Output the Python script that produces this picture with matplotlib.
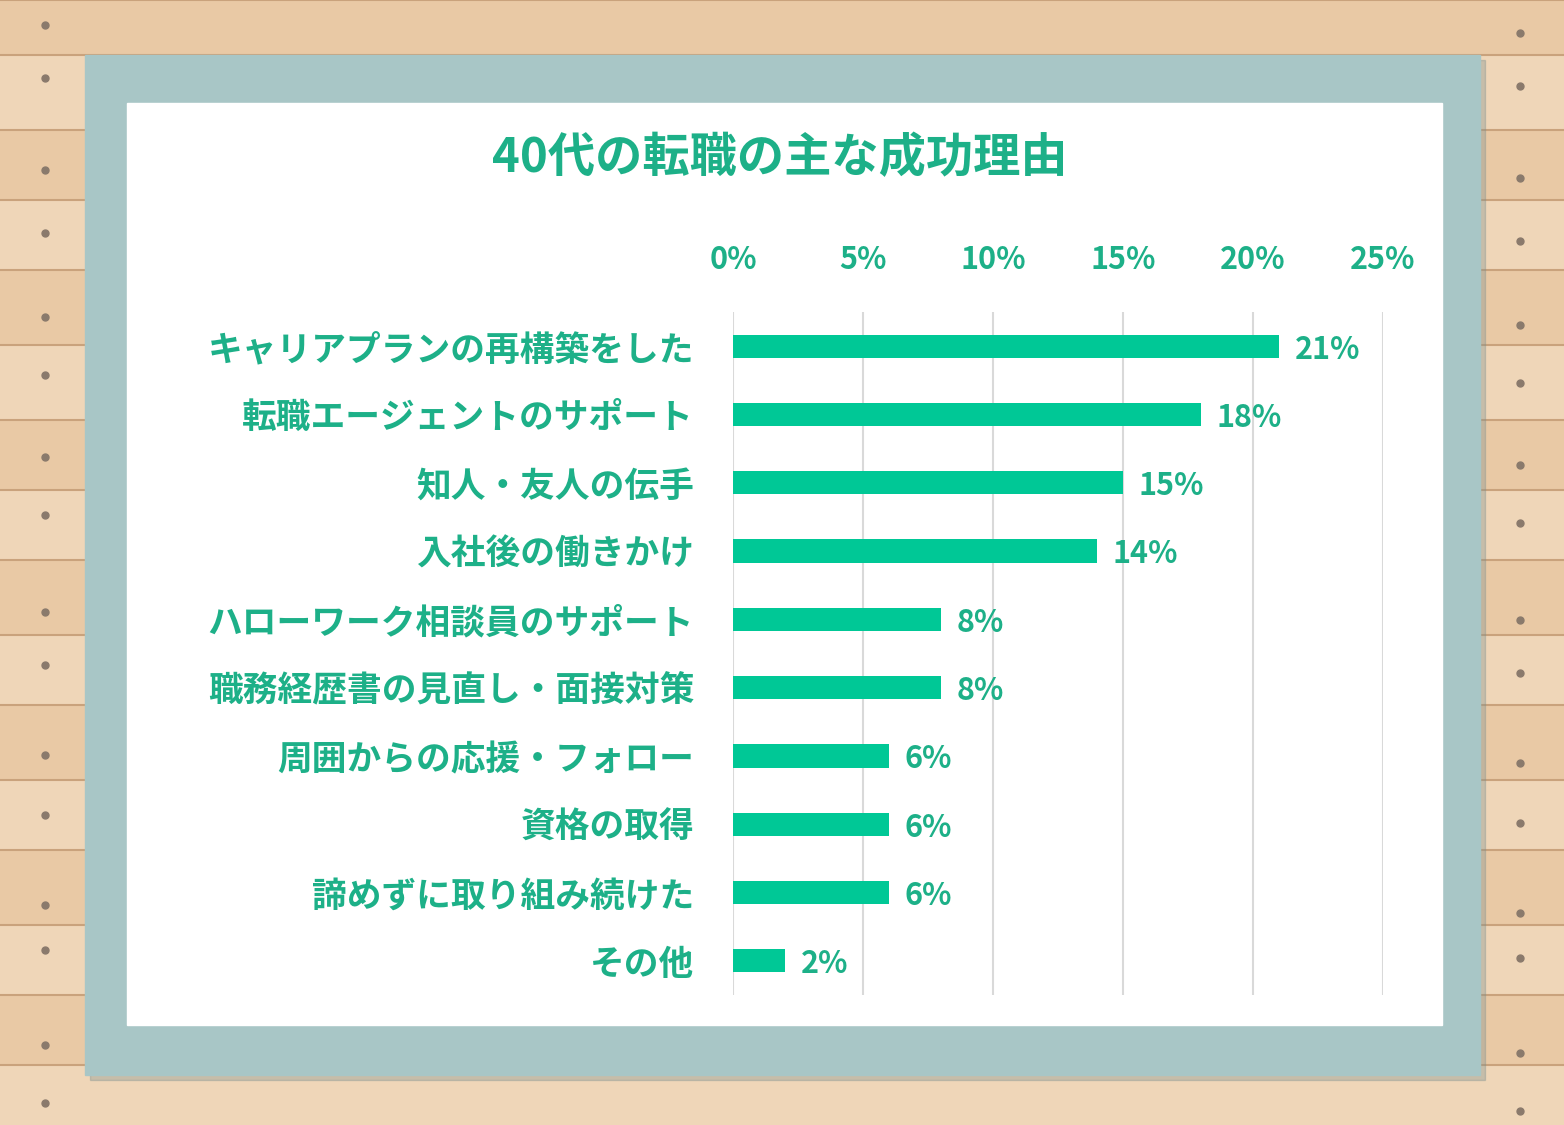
import matplotlib.pyplot as plt
from matplotlib.patches import Rectangle

plt.rcParams["font.family"] = "Noto Sans CJK JP"

categories = ["キャリアプランの再構築をした", "転職エージェントのサポート", "知人・友人の伝手",
              "入社後の働きかけ", "ハローワーク相談員のサポート", "職務経歴書の見直し・面接対策",
              "周囲からの応援・フォロー", "資格の取得", "諦めずに取り組み続けた", "その他"]
values = [21, 18, 15, 14, 8, 8, 6, 6, 6, 2]
ticks = [0, 5, 10, 15, 20, 25]
title = "40代の転職の主な成功理由"

W, H = 1564, 1125
bar_c = "#00c896"
txt_c = "#1db088"

fig = plt.figure(figsize=(W / 100, H / 100), dpi=100)

# wooden background, frame and white panel
bg = fig.add_axes([0, 0, 1, 1])
bg.set_xlim(0, W)
bg.set_ylim(H, 0)
bg.axis("off")
bg.add_patch(Rectangle((0, 0), W, H, color="#ecccaa", zorder=0))
plank_tops = [0, 55, 130, 200, 270, 345, 420, 490, 560, 635, 705, 780, 850, 925, 995, 1065]
for i, y in enumerate(plank_tops):
    shade = "#efd6b8" if i % 2 else "#e9c9a5"
    bg.add_patch(Rectangle((0, y), W, 75, color=shade, zorder=1))
    bg.plot([0, W], [y, y], color="#c9a27c", lw=1.5, zorder=2)
for y in [25, 78, 170, 233, 317, 375, 457, 515, 612, 665, 755, 815, 905, 950, 1045, 1103]:
    bg.plot(45, y, "o", color="#8a7a6c", ms=5, zorder=2)
    bg.plot(1520, y + 8, "o", color="#8a7a6c", ms=5, zorder=2)
bg.add_patch(Rectangle((90, 60), 1395, 1020, color="#7a8f8f", alpha=0.35, zorder=3))
bg.add_patch(Rectangle((85, 55), 1395, 1020, color="#a8c6c6", zorder=4))
bg.add_patch(Rectangle((127, 103), 1315, 922, color="white", zorder=5))
bg.text(780, 158, title, ha="center", va="center", fontsize=34, fontweight="bold",
        color=txt_c, zorder=6)

# chart area
ax = fig.add_axes([733 / W, 1 - 995 / H, 650 / W, (995 - 312) / H])
y = list(range(len(categories)))
ax.barh(y, values, height=0.34, color=bar_c, zorder=3)
ax.set_xlim(0, 25)
ax.set_ylim(len(categories) - 0.5, -0.5)
ax.set_xticks(ticks)
ax.set_xticklabels([f"{t}%" for t in ticks], fontsize=22, fontweight="bold", color=txt_c)
ax.xaxis.tick_top()
ax.tick_params(axis="x", length=0, pad=26)
ax.set_yticks(y)
ax.set_yticklabels(categories, fontsize=25, fontweight="bold", color=txt_c)
ax.tick_params(axis="y", length=0, pad=28)
ax.grid(axis="x", color="#d9d9d9", lw=1.5, zorder=0)
for s in ax.spines.values():
    s.set_visible(False)
ax.patch.set_alpha(0)
for yi, v in zip(y, values):
    ax.text(v + 0.6, yi + 0.05, f"{v}%", va="center", fontsize=22, fontweight="bold", color=txt_c)

fig.savefig("out.png", dpi=100)
